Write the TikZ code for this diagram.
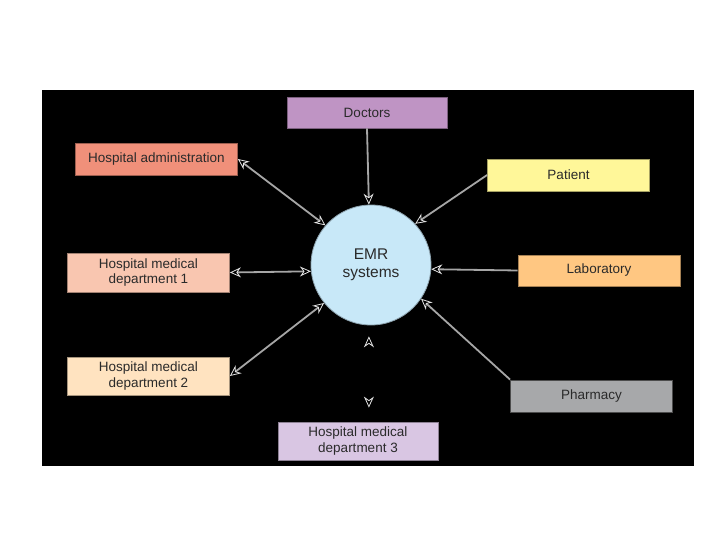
\documentclass[tikz,border=0pt]{standalone}
\usepackage{fontspec}
\setmainfont{Liberation Sans}
\usepackage{tikz}
\usetikzlibrary{arrows.meta, positioning}
\usepackage{xcolor}

\definecolor{docfill}{HTML}{BF94C4}
\definecolor{adminfill}{HTML}{F0907A}
\definecolor{patientfill}{HTML}{FFF799}
\definecolor{deptonefill}{HTML}{F9C6B0}
\definecolor{labfill}{HTML}{FFC782}
\definecolor{depttwofill}{HTML}{FFE3C0}
\definecolor{pharmfill}{HTML}{A7A8AA}
\definecolor{deptthreefill}{HTML}{D9C6E3}
\definecolor{emrfill}{HTML}{C8E8F8}
\definecolor{textcol}{HTML}{2A2A2A}

\begin{document}
\begin{tikzpicture}[x=1pt, y=-1pt,
                    >={Stealth[open, length=11pt, width=10pt, color=gray!20, line width=0.8pt]},
                    party/.style={draw=#1!65!black, fill=#1, line width=0.8pt, inner sep=0pt,
                                  text=textcol, align=center, font=\fontsize{13.5}{15.5}\selectfont,
                                  minimum width=162pt, minimum height=32pt},
                    link/.style={draw=gray!70, line width=1.8pt}]
    % Page and background
    \useasboundingbox (0,0) rectangle (720,540);
    \fill[white] (0,0) rectangle (720,540);
    \fill[black] (42,90) rectangle (694,466);

    % Centre
    \node[circle, draw=emrfill!70!black, fill=emrfill, line width=0.8pt, minimum size=120pt,
          inner sep=0pt, text=textcol, align=center, font=\fontsize{15.5}{18}\selectfont]
          (emr) at (371,265) {EMR\\systems};

    % Parties
    \node[party=docfill, minimum width=160pt, minimum height=31pt] (doctors) at (367,112.5) {Doctors};
    \node[party=adminfill] (admin) at (156.5,159) {Hospital administration};
    \node[party=patientfill] (patient) at (568.5,175) {Patient};
    \node[party=deptonefill, minimum height=39pt] (dept1) at (148.5,272.5) {Hospital medical\\department 1};
    \node[party=labfill, minimum height=31pt] (lab) at (599,270.5) {Laboratory};
    \node[party=depttwofill, minimum height=38pt] (dept2) at (148.5,376) {Hospital medical\\department 2};
    \node[party=pharmfill, draw=black!70] (pharmacy) at (591.5,396) {Pharmacy};
    \node[party=deptthreefill, minimum width=160pt, minimum height=38pt] (dept3) at (358,441) {Hospital medical\\department 3};

    % Links
    \draw[link, ->] (doctors.south) -- (emr.92);
    \draw[link, <->] (admin.east) -- (emr.139);
    \draw[link, ->] (patient.west) -- (emr.43);
    \draw[link, <->] (dept1.east) -- (emr.186);
    \draw[link, ->] (lab.west) -- (emr.356);
    \draw[link, <->] (dept2.east) -- (emr.219);
    \draw[link, ->] (pharmacy.north west) -- (emr.326);
    \draw[link, draw=black, <->, shorten <=11pt, shorten >=14pt] (emr.268) -- (emr.268 |- dept3.north);

\end{tikzpicture}
\end{document}
